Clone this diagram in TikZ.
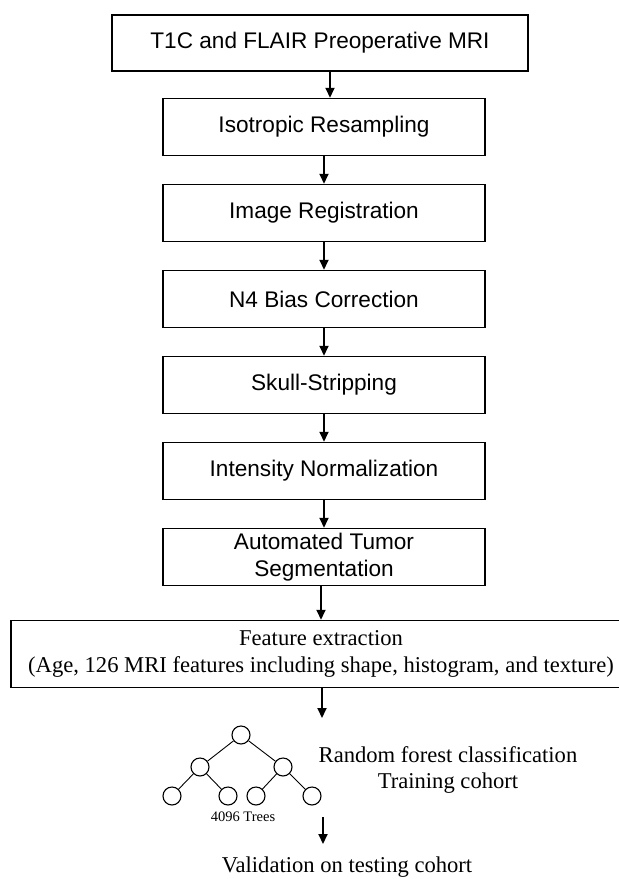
\documentclass[tikz,border=0pt]{standalone}
\usepackage{fontspec}
\setmainfont{Liberation Serif}
\setsansfont{Liberation Sans}
\usetikzlibrary{positioning,arrows.meta}

\begin{document}
\begin{tikzpicture}[x=1pt,y=1pt,node distance=86pt,on grid,
	stage/.style={draw,line width=1.5pt,minimum width=322pt,minimum height=57pt,inner sep=0pt,
		font=\sffamily\fontsize{22.6}{27}\selectfont,align=center},
	arr/.style={line width=2pt,-{Triangle[length=10pt,width=9pt]}},
	leaf/.style={draw,circle,line width=1.1pt,minimum size=18pt,inner sep=0pt},
	serif/.style={font=\fontsize{22.6}{26.5}\selectfont,align=center}]
		\useasboundingbox (0,0) rectangle (619,-879);
		\node[stage,minimum width=416pt,minimum height=56pt](t1c) at (320,-43) {T1C and FLAIR Preoperative MRI};
		\node[stage](iso) at (324,-127) {Isotropic Resampling};
		\node[stage](reg)[below of=iso] {Image Registration};
		\node[stage](n4)[below of=reg] {N4 Bias Correction};
		\node[stage](skull)[below of=n4] {Skull-Stripping};
		\node[stage](norm)[below of=skull] {Intensity Normalization};
		\node[stage](seg)[below of=norm] {Automated Tumor\\Segmentation};
		\node[stage,serif,minimum width=620pt,minimum height=67pt](feat)[below=97pt of seg,xshift=-3pt]
			{Feature extraction\\(Age, 126 MRI features including shape, histogram, and texture)};
		% forest
		\node[leaf](root) at (241,-735) {};
		\node[leaf](l) at (200,-767) {};
		\node[leaf](r) at (283,-767) {};
		\node[leaf](ll) at (172,-796) {};
		\node[leaf](lr) at (228,-796) {};
		\node[leaf](rl) at (256,-796) {};
		\node[leaf](rr) at (312,-796) {};
		\node[font=\fontsize{14.5}{16}\selectfont](trees) at (243,-817) {4096 Trees};
		\node[serif](rf) at (448,-770) {Random forest classification\\Training cohort};
		\node[serif,anchor=base](valid) at (347,-872) {Validation on testing cohort};
		\coordinate (f1) at (322,-718);
		\coordinate (f2) at (323,-817);
		\coordinate (f3) at (323,-844);
		\path[arr]
		([xshift=10pt]t1c.south) edge ([xshift=6pt]iso.north)
		(iso) edge (reg)
		(reg) edge (n4)
		(n4) edge (skull)
		(skull) edge (norm)
		(norm) edge (seg)
		(seg.south -| feat.north) edge (feat.north)
		([xshift=1pt]feat.south) edge (f1)
		(f2) edge (f3);
		\path[line width=0.9pt]
		(root) edge (l)
		(root) edge (r)
		(l) edge (ll)
		(l) edge (lr)
		(r) edge (rl)
		(r) edge (rr);
\end{tikzpicture}
\end{document}
